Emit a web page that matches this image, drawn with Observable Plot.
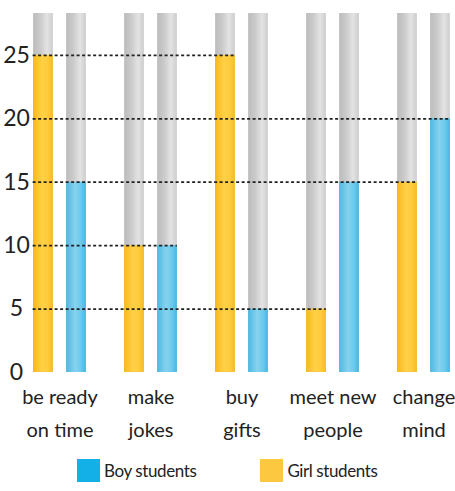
<!DOCTYPE html>
<html>
<head>
<meta charset="utf-8">
<script src="https://cdn.jsdelivr.net/npm/d3@7"></script>
<script src="https://cdn.jsdelivr.net/npm/@observablehq/plot@0.6"></script>
<style>
  html, body { margin: 0; padding: 0; background: #fff; }
  body { width: 455px; font-family: Lato, "Open Sans", sans-serif; }
  #legend { display: flex; align-items: center; height: 36px; margin-top: 7px; font-size: 17px; color: #222; letter-spacing: -0.4px; }
  .sw { width: 23px; height: 23px; display: inline-block; margin-right: 4px; }
</style>
</head>
<body>
<div id="chart"></div>
<div id="legend">
  <span class="sw" style="margin-left:77px;background:#12b0e6"></span><span>Boy students</span>
  <span class="sw" style="margin-left:64px;background:#fcc83f"></span><span>Girl students</span>
</div>
<script>
const categories = ["be ready\non time", "make\njokes", "buy\ngifts", "meet new\npeople", "change\nmind"];
const girlValues = [25, 10, 25, 5, 15];
const boyValues  = [15, 10, 5, 15, 20];
const yTicks = [0, 5, 10, 15, 20, 25];
const tubeMax = 28.3;

const girls = categories.map((c, i) => ({cat: c, value: girlValues[i]}));
const boys  = categories.map((c, i) => ({cat: c, value: boyValues[i]}));

// dashed guide: for each distinct value, extend to the rightmost bar with that value
const bars = [];
categories.forEach((c, i) => {
  bars.push({cat: c, idx: i, g: 0, value: girlValues[i]});
  bars.push({cat: c, idx: i, g: 1, value: boyValues[i]});
});
const rightmost = new Map();
for (const b of bars) {
  const p = rightmost.get(b.value);
  if (!p || b.idx > p.idx || (b.idx === p.idx && b.g > p.g)) rightmost.set(b.value, b);
}
const guides = [...rightmost.values()];
const guideGirl = guides.filter(d => d.g === 0);
const guideBoy  = guides.filter(d => d.g === 1);

const half = 45.625;
const gIn = {insetLeft: half - 26.5, insetRight: half + 6.5};
const bIn = {insetLeft: half + 6.5, insetRight: half - 26.5};

const chart = Plot.plot({
  width: 455,
  height: 445,
  marginTop: 13,
  marginBottom: 73,
  marginLeft: 28,
  marginRight: 0,
  style: {fontFamily: 'Lato, "Open Sans", sans-serif', color: "#222", background: "transparent"},
  x: {type: "band", domain: categories, range: [12.875, 469.125], padding: 0, label: null},
  y: {domain: [0, tubeMax], label: null},
  marks: [
    Plot.barY(categories, {x: d => d, y: () => tubeMax, fill: "url(#gGray)", ...gIn}),
    Plot.barY(categories, {x: d => d, y: () => tubeMax, fill: "url(#gGray)", ...bIn}),
    Plot.barY(girls, {x: "cat", y: "value", fill: "url(#gYellow)", ...gIn}),
    Plot.barY(boys, {x: "cat", y: "value", fill: "url(#gBlue)", ...bIn}),
    Plot.ruleY(guideGirl, {x1: () => categories[0], x2: "cat", y: "value", stroke: "#222", strokeWidth: 1.7, strokeDasharray: "3,2.5", insetLeft: half - 27, insetRight: half + 6.5}),
    Plot.ruleY(guideBoy, {x1: () => categories[0], x2: "cat", y: "value", stroke: "#222", strokeWidth: 1.7, strokeDasharray: "3,2.5", insetLeft: half - 27, insetRight: half - 26.5}),
    Plot.axisY(yTicks, {anchor: "left", tickSize: 0, tickPadding: 12, textAnchor: "middle", fontSize: 23, fill: "#222", label: null}),
    Plot.axisX({anchor: "bottom", tickSize: 0, tickPadding: 8, fontSize: 20, lineHeight: 1.65, fill: "#222", label: null})
  ]
});

const ns = "http://www.w3.org/2000/svg";
const defs = document.createElementNS(ns, "defs");
function grad(id, stops) {
  const lg = document.createElementNS(ns, "linearGradient");
  lg.setAttribute("id", id);
  lg.setAttribute("x1", "0"); lg.setAttribute("x2", "1"); lg.setAttribute("y1", "0"); lg.setAttribute("y2", "0");
  for (const [o, c] of stops) {
    const s = document.createElementNS(ns, "stop");
    s.setAttribute("offset", o); s.setAttribute("stop-color", c);
    lg.appendChild(s);
  }
  defs.appendChild(lg);
}
grad("gGray", [["0", "#bdbcbc"], ["0.35", "#cacaca"], ["0.7", "#e3e3e3"], ["1", "#cdcdcd"]]);
grad("gYellow", [["0", "#f8b81c"], ["0.45", "#ffd046"], ["0.75", "#fecb3c"], ["1", "#f6bb25"]]);
grad("gBlue", [["0", "#4cb8e2"], ["0.45", "#86d2ee"], ["0.75", "#6ccaec"], ["1", "#45b6e1"]]);
chart.insertBefore(defs, chart.firstChild);
document.getElementById("chart").appendChild(chart);
</script>
</body>
</html>
